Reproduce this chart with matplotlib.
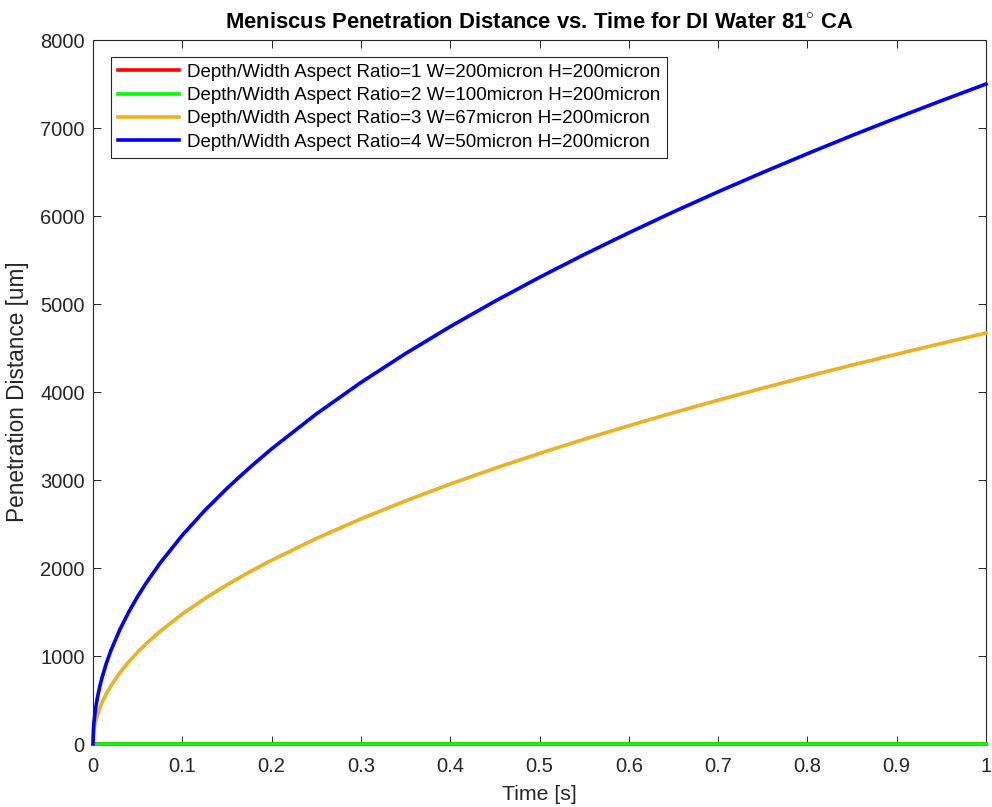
import matplotlib.pyplot as plt

plt.rcParams["font.family"] = ["Liberation Sans", "DejaVu Sans"]
plt.rcParams["mathtext.fontset"] = "custom"
plt.rcParams["mathtext.rm"] = "Liberation Sans"
plt.rcParams["mathtext.bf"] = "Liberation Sans:bold"

# time samples [s]
time = [0, 0.0005, 0.001, 0.002, 0.003, 0.005, 0.0075, 0.01, 0.015, 0.02,
        0.03, 0.04, 0.05, 0.06, 0.075, 0.1, 0.125, 0.15, 0.175, 0.2, 0.25,
        0.3, 0.35, 0.4, 0.45, 0.5, 0.55, 0.6, 0.65, 0.7, 0.75, 0.8, 0.85,
        0.9, 0.95, 1.0]

# penetration distance [um] for each channel geometry
ar1 = [0] * len(time)
ar2 = [0] * len(time)
ar3 = [0, 104, 148, 209, 256, 330, 404, 467, 572, 660,
       809, 934, 1044, 1144, 1279, 1477, 1651, 1809, 1954, 2088, 2335,
       2558, 2763, 2954, 3133, 3302, 3463, 3617, 3765, 3907, 4044, 4177, 4306,
       4430, 4552, 4670]
ar4 = [0, 168, 237, 335, 411, 530, 650, 750, 919, 1061,
       1299, 1500, 1677, 1837, 2054, 2372, 2652, 2905, 3137, 3354, 3750,
       4108, 4437, 4743, 5031, 5303, 5562, 5809, 6047, 6275, 6495, 6708, 6915,
       7115, 7310, 7500]

labels = [
    "Depth/Width Aspect Ratio=1 W=200micron H=200micron",
    "Depth/Width Aspect Ratio=2 W=100micron H=200micron",
    "Depth/Width Aspect Ratio=3 W=67micron H=200micron",
    "Depth/Width Aspect Ratio=4 W=50micron H=200micron",
]
colors = ["#ff0000", "#00ff00", "#edb120", "#0000ff"]
dark = "#262626"

fig = plt.figure(figsize=(9.92, 8.07), dpi=100)
ax = fig.add_axes([93 / 992, 63 / 807, 893 / 992, 704 / 807])

for y, lab, c in zip([ar1, ar2, ar3, ar4], labels, colors):
    ax.plot(time, y, color=c, linewidth=2.6, label=lab, clip_on=False, zorder=3)

ax.set_xlim(0, 1)
ax.set_ylim(0, 8000)
ax.set_xticks([i / 10 for i in range(11)])
ax.set_xticklabels(["0", "0.1", "0.2", "0.3", "0.4", "0.5", "0.6", "0.7", "0.8", "0.9", "1"])
ax.set_yticks(range(0, 8001, 1000))
ax.tick_params(direction="in", top=True, right=True, labelsize=14.5, length=6,
               width=0.7, colors=dark, labelcolor=dark)
ax.tick_params(axis="x", pad=9)
ax.tick_params(axis="y", pad=6)
for s in ax.spines.values():
    s.set_linewidth(0.8)
    s.set_color(dark)

ax.set_xlabel("Time [s]", fontsize=15.3, color=dark, labelpad=7)
ax.set_ylabel("Penetration Distance [um]", fontsize=16.3, color=dark, labelpad=8)
ax.set_title(r"Meniscus Penetration Distance vs. Time for DI Water 81$^{\circ}$ CA",
             fontsize=15.8, fontweight="bold", pad=9)

leg = ax.legend(loc="upper left", bbox_to_anchor=(0.0202, 0.9759), fontsize=13.5,
                fancybox=False, edgecolor=dark, framealpha=1,
                handlelength=3.25, handletextpad=0.43, labelspacing=0.33,
                borderpad=0.36, borderaxespad=0)
leg.get_frame().set_linewidth(0.8)

fig.savefig("out.png", dpi=100)
